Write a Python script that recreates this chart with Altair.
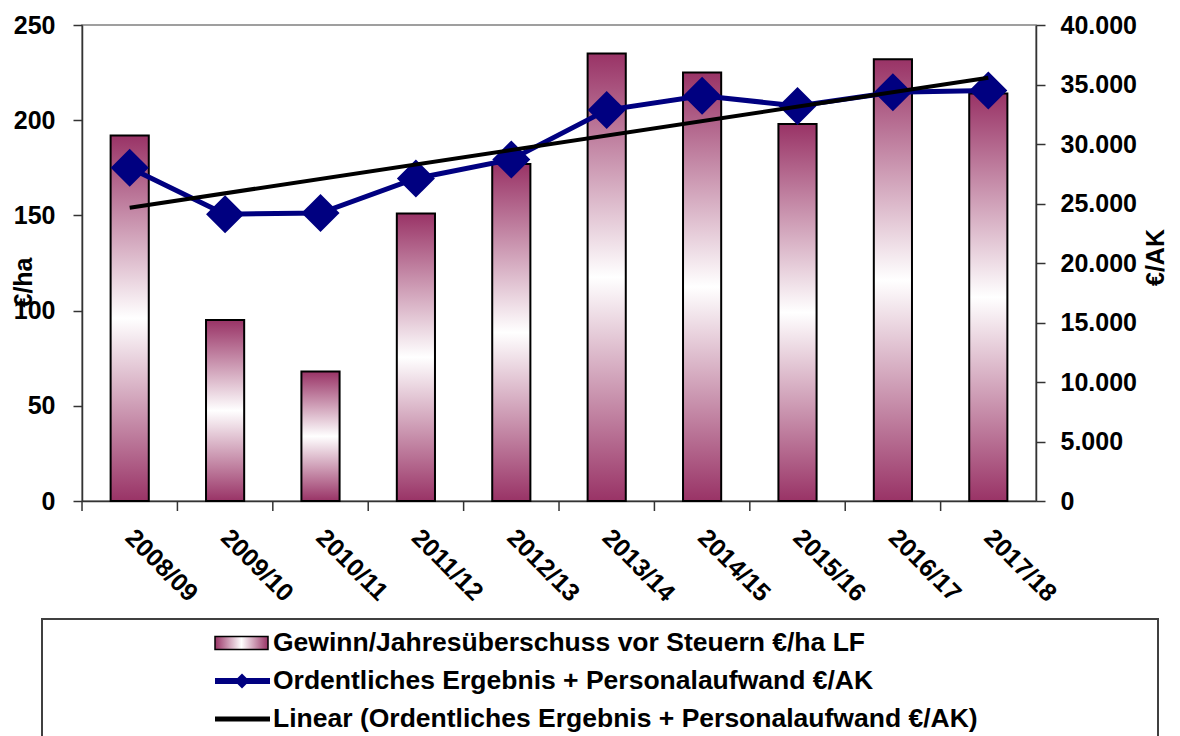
import altair as alt
import pandas as pd

# ---- data ----
years = ["2008/09", "2009/10", "2010/11", "2011/12", "2012/13",
         "2013/14", "2014/15", "2015/16", "2016/17", "2017/18"]
gewinn = [192, 95, 68, 151, 177, 235, 225, 198, 232, 214]          # €/ha LF (left axis)
ergebnis = [28000, 24100, 24200, 27100, 28700,
            32850, 34050, 33200, 34350, 34500]                     # €/AK (right axis)
legend_labels = [
    "Gewinn/Jahresüberschuss vor Steuern €/ha LF",
    "Ordentliches Ergebnis + Personalaufwand €/AK",
    "Linear (Ordentliches Ergebnis + Personalaufwand €/AK)",
]

df = pd.DataFrame({"year": years, "gewinn": gewinn,
                   "ergebnis": ergebnis, "idx": list(range(len(years)))})

FONT = "Liberation Sans"
MAROON = "#993366"
NAVY = "#000080"
AXC = "#333333"

x_scale = alt.Scale(paddingInner=0.6, paddingOuter=0.3)
x_enc = alt.X("year:N", sort=years, title=None, scale=x_scale,
              axis=alt.Axis(labelAngle=45, labelAlign="left", labelBaseline="middle",
                            labelPadding=32, ticks=False,
                            labelFontSize=25, labelFont=FONT, labelFontWeight="bold",
                            labelColor="black", domainColor=AXC, domainWidth=1.5))

bar_grad = alt.Gradient(gradient="linear",
                        stops=[alt.GradientStop(color=MAROON, offset=0),
                               alt.GradientStop(color="#ffffff", offset=0.5),
                               alt.GradientStop(color=MAROON, offset=1)],
                        x1=0, x2=0, y1=0, y2=1)

bars = alt.Chart(df).mark_bar(fill=bar_grad, stroke="black", strokeWidth=2).encode(
    x=x_enc,
    y=alt.Y("gewinn:Q", scale=alt.Scale(domain=[0, 250], nice=False),
            axis=alt.Axis(orient="left", values=[0, 50, 100, 150, 200, 250], title="€/ha",
                          labelFontSize=25, labelFont=FONT, labelFontWeight="bold",
                          labelColor="black", labelPadding=18, tickSize=9,
                          domainColor=AXC, domainWidth=1.5,
                          tickColor=AXC, tickWidth=1.5, grid=False,
                          titleFontSize=25, titleFont=FONT, titleFontWeight="bold",
                          titleColor="black", titleAngle=270, titleX=-59, titleY=257,
                          titleAlign="center", titleBaseline="middle")),
)

# category-boundary ticks on the x axis (between the bars)
xticks = alt.Chart(df).mark_rule(color=AXC, strokeWidth=1.5, xOffset=-28.6).encode(
    x=alt.X("year:N", sort=years, scale=x_scale, bandPosition=0),
    y=alt.value(476), y2=alt.value(486))

y_right = alt.Y("ergebnis:Q", scale=alt.Scale(domain=[0, 40000], nice=False),
                axis=alt.Axis(orient="right", values=list(range(0, 40001, 5000)),
                              title="€/AK",
                              labelExpr="replace(format(datum.value, ','), ',', '.')",
                              labelFontSize=25, labelFont=FONT, labelFontWeight="bold",
                              labelColor="black", labelPadding=15, tickSize=9,
                              domainColor=AXC, domainWidth=1.5,
                              tickColor=AXC, tickWidth=1.5, grid=False,
                              titleFontSize=25, titleFont=FONT, titleFontWeight="bold",
                              titleColor="black", titleAngle=270, titleX=119, titleY=232,
                              titleAlign="center", titleBaseline="middle"))

line = alt.Chart(df).mark_line(color=NAVY, strokeWidth=5).encode(x=x_enc, y=y_right)
points = alt.Chart(df).mark_point(shape="diamond", filled=True, size=1450,
                                  color=NAVY, opacity=1).encode(x=x_enc, y=y_right)

label_expr = "[" + ",".join("'" + y + "'" for y in years) + "][round(datum.idx)]"
trend = (alt.Chart(df)
         .transform_regression("idx", "ergebnis", method="linear")
         .transform_calculate(year=label_expr)
         .mark_line(color="black", strokeWidth=4)
         .encode(x=x_enc, y=y_right))

right_layer = alt.layer(line, points, trend)

# ---- legend (drawn below the plot) ----
leg_df = pd.DataFrame({"leg": legend_labels})
leg_y = alt.Y("leg:N", sort=legend_labels, axis=None,
              scale=alt.Scale(type="point", domain=legend_labels,
                              range=[618, 694], padding=0))

box = alt.Chart(pd.DataFrame({"k": [0]})).mark_rect(
    fill="transparent", stroke="#404040", strokeWidth=2).encode(
    x=alt.value(-40), x2=alt.value(1076), y=alt.value(594), y2=alt.value(800))

leg_grad = alt.Gradient(gradient="linear",
                        stops=[alt.GradientStop(color=MAROON, offset=0),
                               alt.GradientStop(color="#ffffff", offset=0.5),
                               alt.GradientStop(color=MAROON, offset=1)],
                        x1=0, x2=1, y1=0, y2=0)

sym_bar = alt.Chart(leg_df).transform_filter(
    alt.datum.leg == legend_labels[0]).mark_point(
    shape="M-1,-0.245H1V0.245H-1Z", size=2809, fill=leg_grad, filled=True,
    stroke="black", strokeWidth=1.5, opacity=1).encode(x=alt.value(159.5), y=leg_y)

sym_line = alt.Chart(leg_df).transform_filter(
    alt.datum.leg == legend_labels[1]).mark_rule(
    color=NAVY, strokeWidth=6).encode(x=alt.value(133), x2=alt.value(188), y=leg_y)

sym_diamond = alt.Chart(leg_df).transform_filter(
    alt.datum.leg == legend_labels[1]).mark_point(
    shape="diamond", size=225, filled=True, color=NAVY, opacity=1).encode(
    x=alt.value(160), y=leg_y)

sym_trend = alt.Chart(leg_df).transform_filter(
    alt.datum.leg == legend_labels[2]).mark_rule(
    color="black", strokeWidth=5).encode(x=alt.value(133), x2=alt.value(188), y=leg_y)

leg_text = alt.Chart(leg_df).mark_text(
    align="left", baseline="middle", fontSize=26.5, font=FONT, fontWeight="bold",
    color="black").encode(x=alt.value(191), y=leg_y, text="leg:N")

legend = alt.layer(box, sym_bar, sym_line, sym_diamond, sym_trend, leg_text)

chart = (alt.layer(bars, xticks, right_layer, legend)
         .resolve_scale(y="independent")
         .properties(width=954, height=476,
                     padding={"left": 3, "top": 5, "right": 0, "bottom": 0})
         .configure_view(stroke="#808080", strokeWidth=1.5))

chart.save("out.html", embed_options={"renderer": "svg", "actions": False})
